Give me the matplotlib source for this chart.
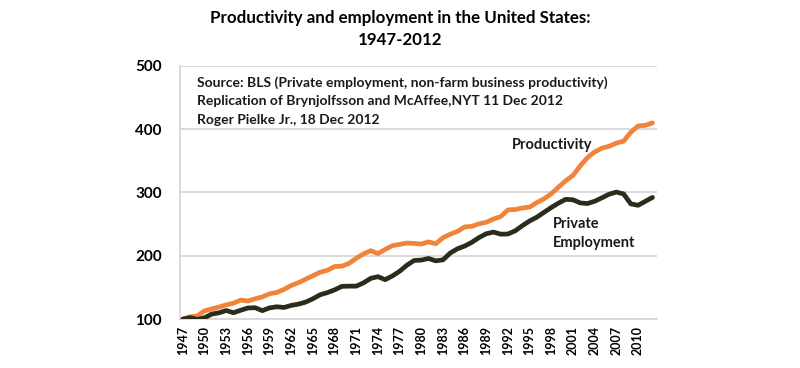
import numpy as np
import matplotlib
matplotlib.use("Agg")
import matplotlib.pyplot as plt

plt.rcParams['font.family'] = ['Lato', 'DejaVu Sans']
plt.rcParams['font.weight'] = 'bold'

years = list(range(1947, 2013))

# index, 1947 = 100
productivity = [100, 103.5, 105, 113, 116, 119, 122.5, 125, 130, 128.5,
                132, 135, 140, 142, 147, 153, 157.5, 163, 168.5, 174,
                177, 183, 183.5, 188, 196, 203, 208, 203.5, 210, 216,
                218, 220, 219.5, 218.5, 222, 219, 228.5, 234, 238.5, 245.5,
                246.5, 250.5, 253, 258, 262, 272.5, 273, 275.5, 277, 284,
                290, 298, 308.5, 318.5, 327, 342, 355, 364, 370, 373,
                378, 381, 395, 405, 406, 410]

employment = [100, 102.2, 99.4, 102.1, 107.9, 109.9, 113.5, 110.0, 113.9, 117.5,
              117.9, 113.3, 117.7, 119.4, 118.3, 121.6, 123.6, 126.8, 132.1, 138.4,
              141.8, 146.1, 151.6, 152.0, 152.0, 157.2, 164.3, 167.0, 162.2, 168.1,
              175.5, 185.0, 192.5, 193.2, 195.7, 192.0, 193.5, 204.2, 211.0, 215.3,
              221.3, 228.8, 234.8, 237.4, 234.1, 234.4, 239.4, 247.6, 255.0, 261.0,
              268.7, 276.3, 283.2, 289.2, 288.4, 283.5, 282.5, 286.1, 291.5, 297.3,
              300.6, 297.7, 282.0, 279.7, 285.9, 292.2]

tick_years = list(range(1947, 2011, 3))
y_ticks = [100, 200, 300, 400, 500]

orange = '#F0843A'
dark = '#2B2D1C'

fig = plt.figure(figsize=(8, 3.68), dpi=100)
ax = fig.add_axes([0.225, 0.133, 0.596, 0.688])

ax.plot(years, productivity, color=orange, lw=3.4, solid_capstyle='round', zorder=3)
ax.plot(years, employment, color=dark, lw=3.4, solid_capstyle='round', zorder=3)

ax.set_xlim(1946.6, 2012.6)
ax.set_ylim(100, 500)
ax.set_yticks(y_ticks)
ax.set_yticklabels([str(v) for v in y_ticks], fontsize=11, fontweight='bold')
ax.set_xticks(tick_years)
ax.set_xticklabels([str(y) for y in tick_years], rotation=90, fontsize=9, fontweight='bold')
ax.tick_params(axis='x', length=0, pad=5)
ax.tick_params(axis='y', length=0, pad=13)

ax.grid(axis='y', color='#D4D4D4', lw=1.2)
ax.set_axisbelow(True)
for s in ['top', 'right']:
    ax.spines[s].set_visible(False)
ax.spines['left'].set_color('#D4D4D4')
ax.spines['bottom'].set_color('#D4D4D4')
ax.spines['left'].set_linewidth(1.2)
ax.spines['bottom'].set_linewidth(1.2)

notes = ["Source: BLS (Private employment, non-farm business productivity)",
         "Replication of Brynjolfsson and McAffee,NYT 11 Dec 2012",
         "Roger Pielke Jr., 18 Dec 2012"]
for i, t in enumerate(notes):
    ax.text(0.035, 0.935 - i * 0.074, t, transform=ax.transAxes,
            fontsize=10, fontweight='bold', va='center', ha='left', color='#1A1A1A')

ax.text(1992.5, 375, "Productivity", fontsize=10.5, fontweight='bold', color='#1A1A1A',
        va='center', ha='left')
ax.text(1998.2, 235, "Private\nEmployment", fontsize=10.5, fontweight='bold', color='#1A1A1A',
        va='center', ha='left', linespacing=1.45)

fig.text(0.5, 0.972, "Productivity and employment in the United States:\n1947-2012",
         ha='center', va='top', fontsize=12.2, fontweight='bold', linespacing=1.45)

fig.savefig("out.png", dpi=100)
